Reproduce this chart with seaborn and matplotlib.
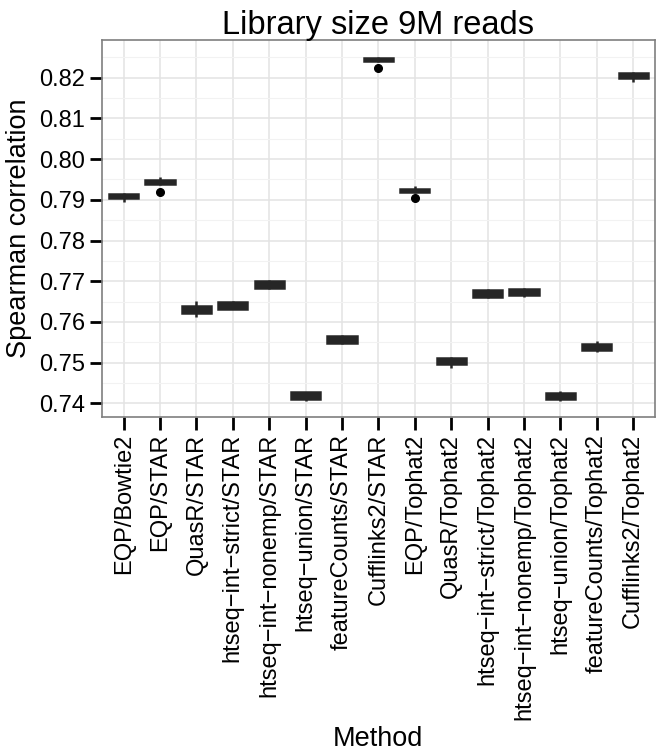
import numpy as np
import pandas as pd
import matplotlib
matplotlib.use("Agg")
import matplotlib.pyplot as plt
from matplotlib.ticker import MultipleLocator
import seaborn as sns

# methods on the x axis, in plotting order
methods = ["EQP/Bowtie2", "EQP/STAR", "QuasR/STAR", "htseq\u2212int\u2212strict/STAR",
           "htseq\u2212int\u2212nonemp/STAR", "htseq\u2212union/STAR", "featureCounts/STAR",
           "Cufflinks2/STAR", "EQP/Tophat2", "QuasR/Tophat2",
           "htseq\u2212int\u2212strict/Tophat2", "htseq\u2212int\u2212nonemp/Tophat2",
           "htseq\u2212union/Tophat2", "featureCounts/Tophat2", "Cufflinks2/Tophat2"]

# Spearman correlation of the subsampled replicates
replicates = [
    [0.7895, 0.7899, 0.7904, 0.7906, 0.7909, 0.7911, 0.7914, 0.7915, 0.7916],
    [0.7920, 0.7936, 0.7938, 0.7941, 0.7943, 0.7945, 0.7948, 0.7951, 0.7957],
    [0.7613, 0.7618, 0.7622, 0.7626, 0.7630, 0.7634, 0.7638, 0.7645, 0.7651],
    [0.7631, 0.7632, 0.7633, 0.7637, 0.7641, 0.7645, 0.7649, 0.7650, 0.7651],
    [0.7682, 0.7683, 0.7684, 0.7688, 0.7692, 0.7696, 0.7700, 0.7701, 0.7702],
    [0.7406, 0.7409, 0.7411, 0.7415, 0.7419, 0.7423, 0.7427, 0.7428, 0.7429],
    [0.7547, 0.7548, 0.7549, 0.7553, 0.7557, 0.7561, 0.7565, 0.7566, 0.7567],
    [0.8223, 0.8238, 0.8240, 0.8243, 0.8245, 0.8247, 0.8249, 0.8250, 0.8251],
    [0.7905, 0.7917, 0.7919, 0.7921, 0.7923, 0.7925, 0.7927, 0.7930, 0.7934],
    [0.7486, 0.7490, 0.7496, 0.7500, 0.7504, 0.7508, 0.7512, 0.7513, 0.7514],
    [0.7660, 0.7661, 0.7662, 0.7666, 0.7670, 0.7674, 0.7678, 0.7679, 0.7680],
    [0.7662, 0.7665, 0.7667, 0.7671, 0.7674, 0.7677, 0.7681, 0.7682, 0.7683],
    [0.7405, 0.7408, 0.7411, 0.7415, 0.7418, 0.7421, 0.7425, 0.7428, 0.7430],
    [0.7526, 0.7529, 0.7532, 0.7536, 0.7539, 0.7542, 0.7546, 0.7549, 0.7552],
    [0.8190, 0.8195, 0.8199, 0.8202, 0.8205, 0.8208, 0.8211, 0.8212, 0.8213],
]
y_ticks = [0.74, 0.75, 0.76, 0.77, 0.78, 0.79, 0.80, 0.81, 0.82]

df = pd.DataFrame({
    "Method": np.repeat(methods, [len(r) for r in replicates]),
    "Spearman": np.concatenate(replicates),
})
df["Method"] = pd.Categorical(df["Method"], categories=methods, ordered=True)

sns.set_theme(style="white")
plt.rcParams["font.family"] = ["Liberation Sans", "DejaVu Sans"]
plt.rcParams["text.color"] = "black"
plt.rcParams["axes.labelcolor"] = "black"

fig = plt.figure(figsize=(6.61, 7.53), dpi=100)
ax = fig.add_axes([0.154, 0.446, 0.837, 0.501])

dark = "#262626"
sns.boxplot(data=df, x="Method", y="Spearman", ax=ax, width=0.8,
            color=dark, linecolor=dark, linewidth=1.8, saturation=1,
            showcaps=False,
            flierprops=dict(marker="o", markersize=5.5, markerfacecolor="black",
                            markeredgecolor="black"))

ax.set_xlim(-0.6, 14.6)
ax.set_ylim(0.7366, 0.8293)
ax.set_yticks(y_ticks)
ax.set_yticklabels([f"{v:.2f}" for v in y_ticks])
ax.yaxis.set_minor_locator(MultipleLocator(0.005))
ax.set_axisbelow(True)
ax.grid(which="major", axis="both", color="#e3e3e3", linewidth=1.1)
ax.grid(which="minor", axis="y", color="#f2f2f2", linewidth=0.8)

ax.tick_params(axis="both", which="major", length=9, width=2, color="black",
               labelsize=17, labelcolor="black", pad=3, left=True, bottom=True)
ax.tick_params(axis="y", which="minor", length=0)
plt.setp(ax.get_xticklabels(), rotation=90)

for s in ax.spines.values():
    s.set_color("#7f7f7f")
    s.set_linewidth(1.2)

ax.set_xlabel("Method", fontsize=19.5, labelpad=4)
ax.set_ylabel("Spearman correlation", fontsize=19.5, labelpad=5)
ax.set_title("Library size 9M reads", fontsize=23.5, pad=4)

fig.savefig("out.png", dpi=100)
